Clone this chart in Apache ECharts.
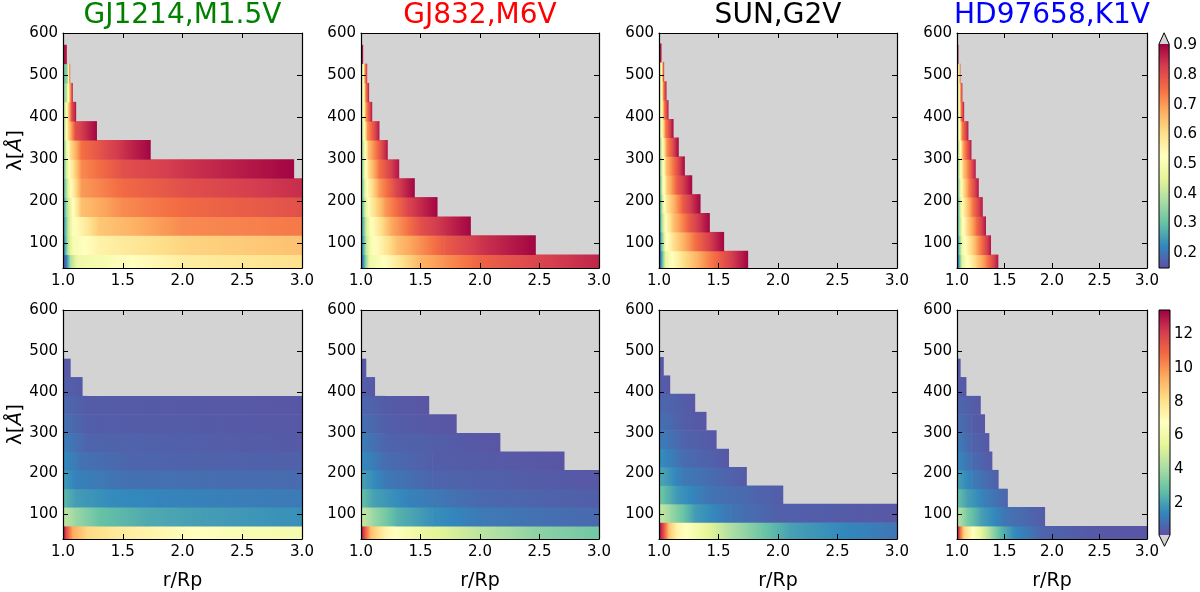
<!DOCTYPE html>
<html>
<head>
<meta charset="utf-8">
<script src="https://cdn.jsdelivr.net/npm/echarts@6/dist/echarts.min.js"></script>
<style>
  html, body { margin: 0; padding: 0; background: #fff; }
  #chart { width: 1200px; height: 592px; }
</style>
</head>
<body>
<div id="chart"></div>
<script>
// panel titles
const TITLES = ['GJ1214,M1.5V', 'GJ832,M6V', 'SUN,G2V', 'HD97658,K1V'];
const TITLE_COLORS = ['#008000', '#ff0000', '#000000', '#0000ff'];

// wavelength bin edges (Å)
const EDGES_A = [40, 72, 118, 163, 209, 254, 299, 345, 390, 436, 481, 527, 572];
const EDGES_SUN = [40, 81, 126, 171, 216, 261, 306, 351, 395, 440, 485, 531, 575];

const X_TICKS = [1.0, 1.5, 2.0, 2.5, 3.0];
const Y_TICKS = [100, 200, 300, 400, 500, 600];
const TOP_CB_TICKS = [0.2, 0.3, 0.4, 0.5, 0.6, 0.7, 0.8, 0.9];
const BOT_CB_TICKS = [2, 4, 6, 8, 10, 12];

// each strip: [r/Rp, value] read along r, last point = where the strip ends
const GJ1214_TOP = [
  [[1.0, 0.15], [1.03, 0.22], [1.06, 0.38], [1.12, 0.48], [1.5, 0.52], [2.0, 0.57], [3.0, 0.6]],
  [[1.0, 0.18], [1.04, 0.4], [1.08, 0.5], [1.3, 0.56], [2.0, 0.62], [3.0, 0.65]],
  [[1.0, 0.2], [1.04, 0.4], [1.08, 0.52], [1.3, 0.64], [2.0, 0.72], [3.0, 0.74]],
  [[1.0, 0.22], [1.03, 0.38], [1.07, 0.5], [1.15, 0.65], [1.5, 0.72], [2.0, 0.76], [3.0, 0.8]],
  [[1.0, 0.25], [1.03, 0.4], [1.06, 0.52], [1.15, 0.7], [1.5, 0.76], [2.0, 0.8], [3.0, 0.85]],
  [[1.0, 0.28], [1.03, 0.45], [1.06, 0.55], [1.15, 0.72], [1.5, 0.8], [2.0, 0.84], [2.93, 0.9]],
  [[1.0, 0.3], [1.03, 0.48], [1.06, 0.6], [1.15, 0.75], [1.4, 0.82], [1.73, 0.9]],
  [[1.0, 0.36], [1.02, 0.45], [1.04, 0.6], [1.1, 0.8], [1.28, 0.9]],
  [[1.0, 0.38], [1.02, 0.45], [1.04, 0.6], [1.07, 0.8], [1.106, 0.88]],
  [[1.0, 0.33], [1.03, 0.4], [1.05, 0.6], [1.078, 0.88]],
  [[1.0, 0.3], [1.035, 0.35], [1.045, 0.55], [1.056, 0.8]],
  [[1.0, 0.88], [1.028, 0.88]]
];
const GJ832_TOP = [
  [[1.0, 0.15], [1.03, 0.3], [1.07, 0.48], [1.2, 0.53], [1.5, 0.67], [2.0, 0.77], [2.5, 0.82], [3.0, 0.86]],
  [[1.0, 0.17], [1.04, 0.4], [1.08, 0.5], [1.3, 0.65], [1.7, 0.78], [2.0, 0.84], [2.465, 0.9]],
  [[1.0, 0.2], [1.04, 0.42], [1.08, 0.52], [1.25, 0.68], [1.5, 0.8], [1.919, 0.9]],
  [[1.0, 0.23], [1.03, 0.42], [1.07, 0.55], [1.2, 0.7], [1.4, 0.82], [1.639, 0.9]],
  [[1.0, 0.25], [1.03, 0.45], [1.06, 0.55], [1.15, 0.7], [1.3, 0.82], [1.448, 0.9]],
  [[1.0, 0.28], [1.03, 0.48], [1.06, 0.6], [1.15, 0.75], [1.317, 0.88]],
  [[1.0, 0.3], [1.03, 0.5], [1.06, 0.65], [1.221, 0.88]],
  [[1.0, 0.33], [1.02, 0.48], [1.05, 0.7], [1.151, 0.88]],
  [[1.0, 0.38], [1.02, 0.5], [1.04, 0.7], [1.09, 0.88]],
  [[1.0, 0.4], [1.02, 0.5], [1.035, 0.7], [1.064, 0.88]],
  [[1.0, 0.4], [1.02, 0.5], [1.03, 0.7], [1.048, 0.85]],
  [[1.0, 0.88], [1.014, 0.88]]
];
const SUN_TOP = [
  [[1.0, 0.15], [1.02, 0.25], [1.05, 0.45], [1.1, 0.52], [1.2, 0.6], [1.4, 0.72], [1.745, 0.9]],
  [[1.0, 0.17], [1.02, 0.3], [1.05, 0.5], [1.12, 0.6], [1.3, 0.75], [1.543, 0.9]],
  [[1.0, 0.2], [1.02, 0.35], [1.05, 0.52], [1.12, 0.65], [1.25, 0.78], [1.423, 0.9]],
  [[1.0, 0.22], [1.03, 0.45], [1.06, 0.58], [1.2, 0.78], [1.345, 0.9]],
  [[1.0, 0.25], [1.03, 0.48], [1.06, 0.62], [1.15, 0.78], [1.275, 0.9]],
  [[1.0, 0.28], [1.03, 0.5], [1.06, 0.65], [1.213, 0.9]],
  [[1.0, 0.3], [1.03, 0.52], [1.06, 0.7], [1.162, 0.9]],
  [[1.0, 0.35], [1.02, 0.5], [1.05, 0.72], [1.118, 0.9]],
  [[1.0, 0.4], [1.02, 0.5], [1.04, 0.72], [1.076, 0.88]],
  [[1.0, 0.4], [1.02, 0.5], [1.035, 0.72], [1.059, 0.88]],
  [[1.0, 0.4], [1.02, 0.5], [1.03, 0.7], [1.039, 0.85]],
  [[1.0, 0.88], [1.017, 0.88]]
];
const HD97658_TOP = [
  [[1.0, 0.15], [1.02, 0.25], [1.05, 0.45], [1.1, 0.52], [1.2, 0.62], [1.3, 0.72], [1.43, 0.88]],
  [[1.0, 0.17], [1.02, 0.3], [1.05, 0.48], [1.1, 0.55], [1.2, 0.68], [1.353, 0.88]],
  [[1.0, 0.2], [1.02, 0.35], [1.05, 0.5], [1.1, 0.6], [1.2, 0.75], [1.3, 0.88]],
  [[1.0, 0.22], [1.03, 0.42], [1.06, 0.55], [1.15, 0.72], [1.266, 0.88]],
  [[1.0, 0.25], [1.03, 0.45], [1.06, 0.58], [1.12, 0.72], [1.224, 0.88]],
  [[1.0, 0.28], [1.03, 0.48], [1.06, 0.62], [1.192, 0.88]],
  [[1.0, 0.3], [1.03, 0.5], [1.06, 0.68], [1.147, 0.88]],
  [[1.0, 0.33], [1.02, 0.48], [1.05, 0.72], [1.115, 0.88]],
  [[1.0, 0.38], [1.02, 0.5], [1.04, 0.72], [1.07, 0.88]],
  [[1.0, 0.4], [1.02, 0.5], [1.035, 0.7], [1.052, 0.85]],
  [[1.0, 0.42], [1.02, 0.55], [1.031, 0.8]],
  [[1.0, 0.88], [1.01, 0.88]]
];

const GJ1214_BOT = [
  [[1.0, 13.3], [1.03, 11.5], [1.08, 9.5], [1.2, 8.3], [1.5, 7.6], [2.0, 6.9], [2.5, 6.4], [3.0, 6.2]],
  [[1.0, 4.6], [1.1, 3.8], [1.3, 2.8], [1.7, 2.2], [2.2, 1.9], [3.0, 1.6]],
  [[1.0, 2.6], [1.1, 1.9], [1.4, 1.5], [2.0, 1.3], [3.0, 1.1]],
  [[1.0, 1.9], [1.1, 1.3], [1.5, 0.9], [3.0, 0.75]],
  [[1.0, 1.5], [1.15, 0.9], [1.6, 0.6], [3.0, 0.5]],
  [[1.0, 1.2], [1.2, 0.6], [3.0, 0.35]],
  [[1.0, 0.9], [1.2, 0.45], [3.0, 0.3]],
  [[1.0, 0.7], [1.2, 0.4], [3.0, 0.28]],
  [[1.0, 0.5], [1.16, 0.35]],
  [[1.0, 0.35], [1.06, 0.3]]
];
const GJ832_BOT = [
  [[1.0, 13.3], [1.03, 11.5], [1.08, 9.0], [1.2, 7.3], [1.35, 6.4], [1.6, 5.5], [2.0, 4.5], [2.5, 3.5], [3.0, 3.0]],
  [[1.0, 4.8], [1.1, 3.8], [1.3, 2.4], [1.6, 1.6], [2.0, 1.1], [3.0, 0.7]],
  [[1.0, 2.8], [1.1, 2.0], [1.4, 1.3], [2.0, 0.7], [3.0, 0.45]],
  [[1.0, 2.0], [1.2, 1.1], [1.6, 0.6], [3.0, 0.3]],
  [[1.0, 1.5], [1.2, 0.8], [1.6, 0.45], [2.706, 0.25]],
  [[1.0, 1.2], [1.2, 0.6], [2.167, 0.25]],
  [[1.0, 0.9], [1.2, 0.45], [1.8, 0.25]],
  [[1.0, 0.7], [1.2, 0.4], [1.569, 0.25]],
  [[1.0, 0.5], [1.114, 0.3]],
  [[1.0, 0.35], [1.04, 0.3]]
];
const SUN_BOT = [
  [[1.0, 13.3], [1.04, 11.5], [1.08, 9.0], [1.15, 7.3], [1.3, 6.2], [1.6, 4.2], [1.85, 3.0], [2.1, 2.0], [2.5, 1.5], [3.0, 1.0]],
  [[1.0, 4.8], [1.1, 3.8], [1.3, 1.9], [1.6, 1.0], [2.0, 0.5], [3.0, 0.3]],
  [[1.0, 3.0], [1.15, 1.8], [1.4, 1.0], [2.04, 0.4]],
  [[1.0, 2.2], [1.2, 1.1], [1.734, 0.35]],
  [[1.0, 1.6], [1.2, 0.8], [1.584, 0.3]],
  [[1.0, 1.2], [1.2, 0.6], [1.48, 0.3]],
  [[1.0, 0.9], [1.2, 0.45], [1.395, 0.28]],
  [[1.0, 0.7], [1.3, 0.3]],
  [[1.0, 0.45], [1.09, 0.3]],
  [[1.0, 0.35], [1.036, 0.3]]
];
const HD97658_BOT = [
  [[1.0, 13.3], [1.03, 11.0], [1.07, 8.5], [1.15, 7.0], [1.25, 5.5], [1.35, 4.0], [1.45, 2.6], [1.6, 1.5], [1.9, 0.6], [2.5, 0.3], [3.0, 0.25]],
  [[1.0, 4.5], [1.1, 3.2], [1.25, 2.0], [1.5, 1.0], [1.922, 0.4]],
  [[1.0, 2.8], [1.1, 2.0], [1.3, 1.2], [1.53, 0.6]],
  [[1.0, 2.0], [1.15, 1.2], [1.433, 0.45]],
  [[1.0, 1.5], [1.15, 0.8], [1.367, 0.35]],
  [[1.0, 1.2], [1.15, 0.6], [1.335, 0.3]],
  [[1.0, 0.9], [1.15, 0.45], [1.29, 0.28]],
  [[1.0, 0.7], [1.245, 0.3]],
  [[1.0, 0.45], [1.094, 0.3]],
  [[1.0, 0.35], [1.033, 0.3]]
];

const PANELS = [
  [GJ1214_TOP, EDGES_A], [GJ832_TOP, EDGES_A], [SUN_TOP, EDGES_SUN], [HD97658_TOP, EDGES_A],
  [GJ1214_BOT, EDGES_A], [GJ832_BOT, EDGES_A], [SUN_BOT, EDGES_SUN], [HD97658_BOT, EDGES_A]
];

// colour scale ranges of the two colourbars
const TOP_RANGE = [0.15, 0.905];
const BOT_RANGE = [0.1, 13.45];

// Spectral_r
const SPECTRAL_R = ['#5e4fa2', '#3288bd', '#66c2a5', '#abdda4', '#e6f598', '#ffffbf',
  '#fee08b', '#fdae61', '#f46d43', '#d53e4f', '#9e0142'];

function cmap(v, lo, hi) {
  let t = (v - lo) / (hi - lo);
  t = Math.min(1, Math.max(0, t));
  const p = t * (SPECTRAL_R.length - 1);
  const i = Math.min(SPECTRAL_R.length - 2, Math.floor(p));
  const f = p - i;
  const a = echarts.color.parse(SPECTRAL_R[i]);
  const b = echarts.color.parse(SPECTRAL_R[i + 1]);
  const c = [0, 1, 2].map(k => Math.round(a[k] + (b[k] - a[k]) * f));
  return 'rgb(' + c.join(',') + ')';
}

const FONT = 'DejaVu Sans';
const COL_LEFT = [63, 361, 659, 957];
const COL_W = [239, 238, 238, 190];
const ROW_TOP = [33, 310];
const ROW_H = [235, 237];

const grid = [], xAxis = [], yAxis = [], series = [], graphic = [];

function makeCellRenderer(range) {
  return function (params, api) {
    const a = api.coord([api.value(0), api.value(3)]);
    const b = api.coord([api.value(1), api.value(2)]);
    const v0 = api.value(4), v1 = api.value(5);
    const stops = [];
    for (let k = 0; k <= 8; k++) {
      const t = k / 8;
      stops.push({ offset: t, color: cmap(v0 + (v1 - v0) * t, range[0], range[1]) });
    }
    return {
      type: 'rect',
      shape: { x: a[0], y: a[1], width: b[0] - a[0] + 0.5, height: b[1] - a[1] + 0.5 },
      style: { fill: new echarts.graphic.LinearGradient(0, 0, 1, 0, stops) }
    };
  };
}

const tickStyle = { lineStyle: { color: '#000', width: 1 } };
const lineStyle = { show: true, lineStyle: { color: '#000', width: 1.2 } };

for (let row = 0; row < 2; row++) {
  for (let col = 0; col < 4; col++) {
    const g = grid.length;
    grid.push({
      left: COL_LEFT[col], top: ROW_TOP[row], width: COL_W[col], height: ROW_H[row],
      show: true, backgroundColor: '#d3d3d3', borderWidth: 0
    });
    const xi = xAxis.length;
    xAxis.push({
      type: 'value', gridIndex: g, min: 1, max: 3, interval: 0.5, z: 10,
      axisLine: lineStyle, splitLine: { show: false },
      axisTick: Object.assign({ inside: true, length: 5 }, tickStyle),
      axisLabel: { margin: 6, fontFamily: FONT, fontSize: 15, color: '#000', formatter: v => v.toFixed(1) },
      name: row === 1 ? 'r/Rp' : '', nameLocation: 'middle', nameGap: 33,
      nameTextStyle: { fontFamily: FONT, fontSize: 19, color: '#000' }
    });
    xAxis.push({
      type: 'value', gridIndex: g, min: 1, max: 3, interval: 0.5, position: 'top', z: 10,
      axisLine: lineStyle, splitLine: { show: false },
      axisTick: Object.assign({ inside: true, length: 5 }, tickStyle),
      axisLabel: { show: false }
    });
    const yi = yAxis.length;
    yAxis.push({
      type: 'value', gridIndex: g, min: 40, max: 600, z: 10,
      axisLine: lineStyle, splitLine: { show: false },
      axisTick: Object.assign({ inside: true, length: 5, customValues: Y_TICKS }, tickStyle),
      axisLabel: { customValues: Y_TICKS, margin: 5, fontFamily: FONT, fontSize: 15, color: '#000' },
      name: col === 0 ? '{a|λ[}{b|Å}{a|]}' : '', nameLocation: 'middle', nameGap: 36, nameRotate: 90,
      nameTextStyle: {
        rich: {
          a: { fontFamily: FONT, fontSize: 20, color: '#000' },
          b: { fontFamily: FONT, fontSize: 20, fontStyle: 'italic', color: '#000' }
        }
      }
    });
    yAxis.push({
      type: 'value', gridIndex: g, min: 40, max: 600, position: 'right', z: 10,
      axisLine: lineStyle, splitLine: { show: false },
      axisTick: Object.assign({ inside: true, length: 5, customValues: Y_TICKS }, tickStyle),
      axisLabel: { show: false }
    });

    const [profiles, edges] = PANELS[row * 4 + col];
    const data = [];
    profiles.forEach((pts, i) => {
      for (let j = 0; j < pts.length - 1; j++) {
        data.push([pts[j][0], pts[j + 1][0], edges[i], edges[i + 1], pts[j][1], pts[j + 1][1]]);
      }
    });
    series.push({
      type: 'custom', xAxisIndex: xi, yAxisIndex: yi, clip: true,
      renderItem: makeCellRenderer(row === 0 ? TOP_RANGE : BOT_RANGE),
      encode: { x: [0, 1], y: [2, 3] },
      data: data, silent: true
    });

    if (row === 0) {
      graphic.push({
        type: 'text', x: COL_LEFT[col] + COL_W[col] / 2, y: 16,
        style: {
          text: TITLES[col], fill: TITLE_COLORS[col], font: '28px "DejaVu Sans"',
          textAlign: 'center', textVerticalAlign: 'middle'
        }
      });
    }
  }
}

// colourbars
function makeColorbar(top, height, range, ticks, extendTop) {
  const g = grid.length;
  grid.push({ left: 1159, top: top, width: 11, height: height });
  const xi = xAxis.length;
  xAxis.push({ type: 'value', gridIndex: g, min: 0, max: 1, show: false });
  const yi = yAxis.length;
  yAxis.push({
    type: 'value', gridIndex: g, min: range[0], max: range[1], position: 'right',
    axisLine: { show: false }, splitLine: { show: false },
    axisTick: Object.assign({ length: 4, customValues: ticks }, tickStyle),
    axisLabel: { customValues: ticks, margin: 4, fontFamily: FONT, fontSize: 15, color: '#000' }
  });
  series.push({
    type: 'custom', xAxisIndex: xi, yAxisIndex: yi, clip: false, silent: true,
    data: [[0, range[0], 1, range[1]]],
    encode: { x: [0, 2], y: [1, 3] },
    renderItem: function (params, api) {
      const lo = api.coord([0, range[0]]);
      const hi = api.coord([1, range[1]]);
      const stops = SPECTRAL_R.map((c, i) => ({ offset: i / (SPECTRAL_R.length - 1), color: c }));
      const ext = 0.05 * (lo[1] - hi[1]);
      const midX = (lo[0] + hi[0]) / 2;
      let tri, outline;
      if (extendTop) {
        tri = [[lo[0], hi[1]], [hi[0], hi[1]], [midX, hi[1] - ext]];
        outline = [[lo[0], lo[1]], [lo[0], hi[1]], [midX, hi[1] - ext], [hi[0], hi[1]], [hi[0], lo[1]], [lo[0], lo[1]]];
      } else {
        tri = [[lo[0], lo[1]], [hi[0], lo[1]], [midX, lo[1] + ext]];
        outline = [[lo[0], hi[1]], [lo[0], lo[1]], [midX, lo[1] + ext], [hi[0], lo[1]], [hi[0], hi[1]], [lo[0], hi[1]]];
      }
      return {
        type: 'group',
        children: [
          { type: 'rect', shape: { x: lo[0], y: hi[1], width: hi[0] - lo[0], height: lo[1] - hi[1] },
            style: { fill: new echarts.graphic.LinearGradient(0, 1, 0, 0, stops) } },
          { type: 'polygon', shape: { points: tri }, style: { fill: '#d3d3d3' } },
          { type: 'polyline', shape: { points: outline }, style: { stroke: '#000', lineWidth: 1, fill: null } }
        ]
      };
    }
  });
}
makeColorbar(44, 224, TOP_RANGE, TOP_CB_TICKS, true);
makeColorbar(310, 225, BOT_RANGE, BOT_CB_TICKS, false);

const chart = echarts.init(document.getElementById('chart'), null, { renderer: 'canvas' });
chart.setOption({
  backgroundColor: '#fff',
  animation: false,
  textStyle: { fontFamily: FONT },
  grid, xAxis, yAxis, series, graphic
});
</script>
</body>
</html>
